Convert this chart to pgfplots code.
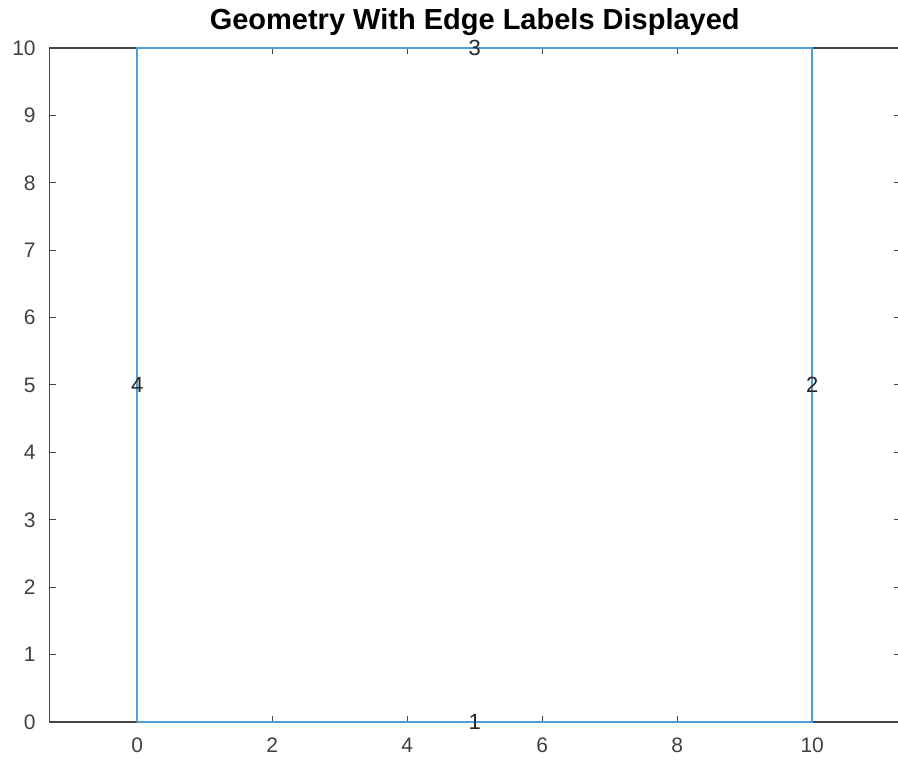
\documentclass[border=0pt]{standalone}
\usepackage{fontspec}
\setmainfont{Liberation Sans}
\usepackage{pgfplots}
\pgfplotsset{compat=1.18}
\definecolor{edgeblue}{RGB}{75,160,220}
\definecolor{axgray}{RGB}{70,70,70}
\begin{document}
\begin{tikzpicture}
\begin{axis}[
  x=27pt, y=26.96pt,
  xmin=-1.3, xmax=11.3, ymin=0, ymax=10,
  scale only axis,
  axis line style={axgray, line width=0.5pt},
  xtick={0,2,4,6,8,10},
  ytick={0,1,2,3,4,5,6,7,8,9,10},
  tick align=inside,
  xtick pos=both, ytick pos=both,
  xticklabel pos=lower, yticklabel pos=left,
  major tick length=2.5pt,
  tick style={axgray, line width=0.4pt},
  ticklabel style={font=\fontsize{8.4}{9}\selectfont, text=black!75},
  /pgf/number format/assume math mode=true,
  xticklabel style={yshift=-3pt},
  yticklabel style={xshift=-2pt},
  title={\bfseries Geometry With Edge Labels Displayed},
  title style={font=\fontsize{11.6}{12}\selectfont, yshift=-4.5pt},
  clip=false,
]
\addplot[edgeblue, line width=0.95pt] coordinates {(0,0) (10,0) (10,10) (0,10) (0,0)};
\addplot[only marks, mark=none, nodes near coords, point meta=explicit symbolic,
  every node near coord/.style={anchor=center, font=\fontsize{8.8}{9}\selectfont, text=black!85}]
  table[meta=lab] {
x y lab
5 0 1
10 5 2
5 10 3
0 5 4
};
\end{axis}
\pgfresetboundingbox
\path[use as bounding box] (-19.8pt,-15.6pt) rectangle (339.4pt, 288.8pt);
\end{tikzpicture}
\end{document}
